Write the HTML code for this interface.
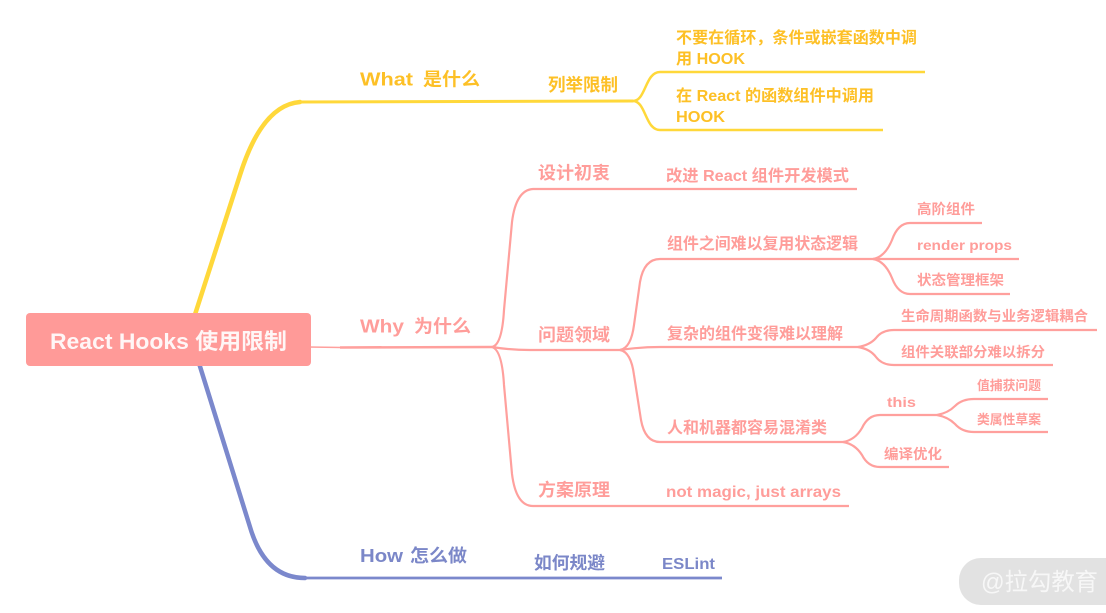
<!DOCTYPE html>
<html>
<head>
<meta charset="utf-8">
<style>
  html, body { margin:0; padding:0; background:#ffffff; }
  svg { display:block; }
  text { font-family: "Liberation Sans", "Noto Sans CJK SC", sans-serif; font-weight: bold; }
  .y { fill:#FDC026; }
  .p { fill:#FF9D9A; }
  .b { fill:#7B87C8; }
</style>
</head>
<body>
<svg width="1106" height="613" viewBox="0 0 1106 613" xmlns="http://www.w3.org/2000/svg">
  <rect x="0" y="0" width="1106" height="613" fill="#ffffff"/>

  <!-- Yellow main branch -->
  <path d="M190,330 L240,175 Q262,105 300,102" fill="none" stroke="#FFD83A" stroke-width="4.5" stroke-linecap="round"/>
  <path d="M298,102 L633,101" fill="none" stroke="#FFD83A" stroke-width="3"/>
  <path d="M633,101 C646,101 645,72 660,72 L925,72" fill="none" stroke="#FFD83A" stroke-width="2.5"/>
  <path d="M633,101 C646,101 645,130 660,130 L883,130" fill="none" stroke="#FFD83A" stroke-width="2.5"/>

  <!-- Blue main branch -->
  <path d="M198,360 L250,527 Q265,578 305,578" fill="none" stroke="#7B88CC" stroke-width="4.5" stroke-linecap="round"/>
  <path d="M303,578 L722,578" fill="none" stroke="#7B88CC" stroke-width="2.8"/>

  <!-- Pink main branch -->
  <path d="M308,347 L342,347.5" fill="none" stroke="#FFA09D" stroke-width="1.5"/>
  <path d="M340,347.5 L492,347" fill="none" stroke="#FFA09D" stroke-width="2.6"/>
  <g fill="none" stroke="#FFA09D" stroke-width="2.2">
    <path d="M492,347 Q502,345 504,310 L512,222 Q516,190 533,189 L857,189"/>
    <path d="M492,347 Q510,350 530,350 L620,350"/>
    <path d="M492,347 Q502,350 504,385 L512,474 Q516,506 533,506 L849,506"/>

    <path d="M620,350 Q631,348 634,325 L640,282 Q644,259 660,259 L873,259"/>
    <path d="M620,350 Q640,347 660,347 L858,347"/>
    <path d="M620,350 Q631,352 634,375 L641,420 Q645,442 660,442 L843,442"/>

    <path d="M873,259 Q885,257 892,240 Q898,223 910,223 L982,223"/>
    <path d="M873,259 L1019,259"/>
    <path d="M873,259 Q885,261 892,278 Q898,294 910,294 L1010,294"/>

    <path d="M858,347 Q870,345 876,338 Q882,330 894,330 L1097,330"/>
    <path d="M858,347 Q870,349 876,357 Q882,365 894,365 L1053,365"/>

    <path d="M843,442 Q855,440 862,428 Q868,415 880,415 L937,415"/>
    <path d="M843,442 Q855,444 862,455 Q868,467 880,467 L949,467"/>

    <path d="M937,415 Q948,413 955,406 Q962,399 974,399 L1048,399"/>
    <path d="M937,415 Q948,417 955,424 Q962,432 974,432 L1048,432"/>
  </g>

  <!-- Root node -->
  <rect x="26" y="313" width="285" height="53" rx="4" ry="4" fill="#FF9A98"/>
  <text x="50" y="349" font-size="22" fill="#FFF6F6" textLength="237" lengthAdjust="spacingAndGlyphs">React Hooks 使用限制</text>

  <!-- Yellow texts -->
  <text class="y" x="360" y="85.5" font-size="18" textLength="53" lengthAdjust="spacingAndGlyphs">What</text>
  <text class="y" x="423" y="85.5" font-size="18" textLength="57" lengthAdjust="spacingAndGlyphs">是什么</text>
  <text class="y" x="548" y="91" font-size="17.5" textLength="70" lengthAdjust="spacingAndGlyphs">列举限制</text>
  <text class="y" x="676" y="43" font-size="16" textLength="241" lengthAdjust="spacingAndGlyphs">不要在循环，条件或嵌套函数中调</text>
  <text class="y" x="676" y="64" font-size="16" textLength="69" lengthAdjust="spacingAndGlyphs">用 HOOK</text>
  <text class="y" x="676" y="101" font-size="16" textLength="198" lengthAdjust="spacingAndGlyphs">在 React 的函数组件中调用</text>
  <text class="y" x="676" y="122" font-size="16" textLength="49" lengthAdjust="spacingAndGlyphs">HOOK</text>

  <!-- Pink texts -->
  <text class="p" x="360" y="332.5" font-size="18" textLength="44" lengthAdjust="spacingAndGlyphs">Why</text>
  <text class="p" x="414" y="332.5" font-size="18" textLength="57" lengthAdjust="spacingAndGlyphs">为什么</text>
  <text class="p" x="538" y="179" font-size="17.5" textLength="72" lengthAdjust="spacingAndGlyphs">设计初衷</text>
  <text class="p" x="538" y="341" font-size="17.5" textLength="72" lengthAdjust="spacingAndGlyphs">问题领域</text>
  <text class="p" x="538" y="496" font-size="17.5" textLength="72" lengthAdjust="spacingAndGlyphs">方案原理</text>

  <text class="p" x="666" y="181" font-size="16" textLength="183" lengthAdjust="spacingAndGlyphs">改进 React 组件开发模式</text>
  <text class="p" x="667" y="249" font-size="16" textLength="191" lengthAdjust="spacingAndGlyphs">组件之间难以复用状态逻辑</text>
  <text class="p" x="667" y="339" font-size="16" textLength="176" lengthAdjust="spacingAndGlyphs">复杂的组件变得难以理解</text>
  <text class="p" x="667" y="433" font-size="16" textLength="160" lengthAdjust="spacingAndGlyphs">人和机器都容易混淆类</text>
  <text class="p" x="666" y="497" font-size="16" textLength="175" lengthAdjust="spacingAndGlyphs">not magic, just arrays</text>

  <text class="p" x="917" y="214" font-size="14" textLength="58" lengthAdjust="spacingAndGlyphs">高阶组件</text>
  <text class="p" x="917" y="250" font-size="14" textLength="95" lengthAdjust="spacingAndGlyphs">render props</text>
  <text class="p" x="917" y="285" font-size="14" textLength="87" lengthAdjust="spacingAndGlyphs">状态管理框架</text>
  <text class="p" x="901" y="321" font-size="14" textLength="187" lengthAdjust="spacingAndGlyphs">生命周期函数与业务逻辑耦合</text>
  <text class="p" x="901" y="357" font-size="14" textLength="144" lengthAdjust="spacingAndGlyphs">组件关联部分难以拆分</text>
  <text class="p" x="887" y="407" font-size="14" textLength="29" lengthAdjust="spacingAndGlyphs">this</text>
  <text class="p" x="884" y="459" font-size="14" textLength="58" lengthAdjust="spacingAndGlyphs">编译优化</text>
  <text class="p" x="977" y="390" font-size="13" textLength="64" lengthAdjust="spacingAndGlyphs">值捕获问题</text>
  <text class="p" x="977" y="424" font-size="13" textLength="64" lengthAdjust="spacingAndGlyphs">类属性草案</text>

  <!-- Blue texts -->
  <text class="b" x="360" y="562" font-size="18" textLength="43" lengthAdjust="spacingAndGlyphs">How</text>
  <text class="b" x="410" y="562" font-size="18" textLength="57" lengthAdjust="spacingAndGlyphs">怎么做</text>
  <text class="b" x="534" y="569" font-size="17.5" textLength="71" lengthAdjust="spacingAndGlyphs">如何规避</text>
  <text class="b" x="662" y="569" font-size="16" textLength="53" lengthAdjust="spacingAndGlyphs">ESLint</text>

  <!-- Watermark -->
  <rect x="959" y="558" width="170" height="47" rx="22" ry="22" fill="#E2E2E2"/>
  <text x="981" y="590" font-size="24" fill="#F7F7F7" style="font-weight:normal" textLength="117" lengthAdjust="spacingAndGlyphs">@拉勾教育</text>
</svg>
</body>
</html>
